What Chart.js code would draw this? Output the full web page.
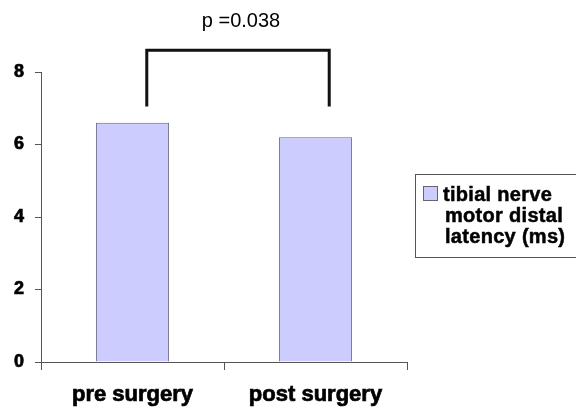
<!DOCTYPE html>
<html>
<head>
<meta charset="utf-8">
<script src="https://cdn.jsdelivr.net/npm/chart.js@4"></script>
<style>
  body { margin: 0; background: #fff; }
  #wrap { position: relative; width: 576px; height: 414px; }
  #legend {
    position: absolute; left: 415px; top: 174px; width: 170px; height: 84px;
    border: 1px solid #555; box-sizing: border-box;
    font: bold 20px "Liberation Sans", Arial, sans-serif; color: #000;
    padding: 9px 0 0 7px; line-height: 21px; letter-spacing: 0.3px;
    -webkit-text-stroke: 0.5px #000;
  }
  #legend .sw {
    display: inline-block; width: 13px; height: 13px; background: #ccccff;
    border: 1px solid #666; vertical-align: 0px; margin-right: 5px;
    -webkit-text-stroke: 0;
  }
  #legend .ind { padding-left: 22px; }
</style>
</head>
<body>
<div id="wrap">
  <canvas id="latencyChart" width="576" height="414"></canvas>
  <div id="legend"><span class="sw"></span>tibial nerve<div class="ind">motor distal</div><div class="ind">latency (ms)</div></div>
</div>
<script>
const categories = ["pre surgery", "post surgery"];
const latencyValues = [6.6, 6.2];
const yTicks = [0, 2, 4, 6, 8];
const bracketLevels = [7.05, 8.6]; // низ ножек, верх скобки
const pLabel = "p =0.038";

// скобка со значением p над столбцами
const bracketPlugin = {
  id: "bracket",
  afterDraw(chart) {
    const ctx = chart.ctx;
    const x = chart.scales.x;
    const y = chart.scales.y;
    const catW = x.getPixelForValue(1) - x.getPixelForValue(0);
    const x1 = x.getPixelForValue(0) + catW * 0.078;
    const x2 = x.getPixelForValue(1) + catW * 0.075;
    const yLow = y.getPixelForValue(bracketLevels[0]);
    const yTop = y.getPixelForValue(bracketLevels[1]);
    ctx.save();
    ctx.strokeStyle = "#111";
    ctx.lineWidth = 3;
    ctx.beginPath();
    ctx.moveTo(x1, yLow);
    ctx.lineTo(x1, yTop);
    ctx.lineTo(x2, yTop);
    ctx.lineTo(x2, yLow);
    ctx.stroke();
    ctx.fillStyle = "#000";
    ctx.font = '20px "Liberation Sans", Arial, sans-serif';
    ctx.textAlign = "center";
    ctx.textBaseline = "alphabetic";
    ctx.fillText(pLabel, (x1 + x2) / 2 + 3, 27);
    ctx.restore();
  },
};

new Chart(document.getElementById("latencyChart").getContext("2d"), {
  type: "bar",
  data: {
    labels: categories,
    datasets: [
      {
        label: "tibial nerve motor distal latency (ms)",
        data: latencyValues,
        backgroundColor: "#ccccff",
        borderColor: "#666680",
        borderWidth: 1,
        categoryPercentage: 0.4,
        barPercentage: 1,
      },
    ],
  },
  options: {
    responsive: false,
    animation: false,
    layout: { padding: { top: 72, right: 169, left: 0, bottom: 0 } },
    plugins: { legend: { display: false }, tooltip: { enabled: false } },
    scales: {
      x: {
        afterFit(scale) { scale.height = 52; },
        border: { color: "#555", width: 1 },
        grid: { drawOnChartArea: false, drawTicks: true, tickLength: 8, color: "#555" },
        ticks: {
          color: "#000",
          padding: 12,
          textStrokeColor: "#000",
          textStrokeWidth: 0.7,
          font: { family: "Liberation Sans", size: 22, weight: "bold" },
        },
      },
      y: {
        min: 0,
        max: 8,
        afterFit(scale) { scale.width = 41; },
        afterBuildTicks(scale) { scale.ticks = yTicks.map((v) => ({ value: v })); },
        border: { color: "#555", width: 1 },
        grid: { drawOnChartArea: false, drawTicks: true, tickLength: 6, color: "#555" },
        ticks: {
          color: "#000",
          padding: 11,
          textStrokeColor: "#000",
          textStrokeWidth: 0.7,
          font: { family: "Liberation Sans", size: 18, weight: "bold" },
        },
      },
    },
  },
  plugins: [bracketPlugin],
});
</script>
</body>
</html>
